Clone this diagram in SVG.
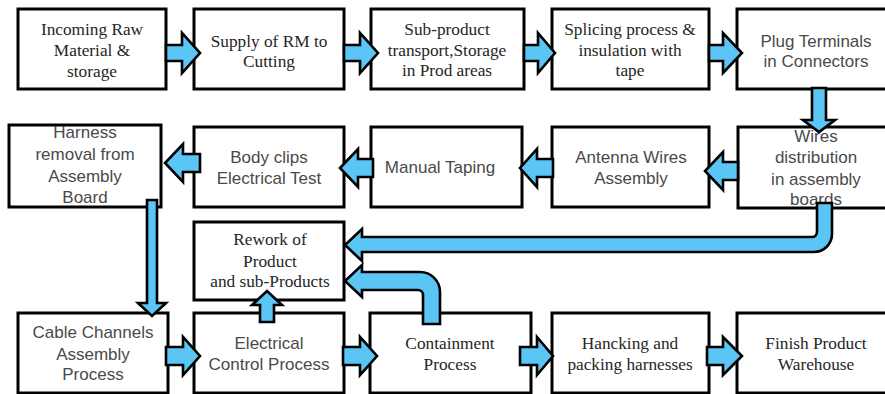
<svg xmlns="http://www.w3.org/2000/svg" width="885" height="394" viewBox="0 0 885 394">
<style>
.box{fill:#fff;stroke:#000;stroke-width:3}
.arr{fill:#5BC6F6;stroke:#000;stroke-width:2.6;stroke-linejoin:miter}
.se{font-family:"Liberation Serif","Times New Roman",serif;font-size:17.3px;fill:#262626;text-anchor:middle}
.sa{font-family:"Liberation Sans",Arial,sans-serif;font-size:17px;fill:#4a4a4a;text-anchor:middle}
</style>
<rect width="885" height="394" fill="#fff"/>
<g id="n1"><rect class="box" x="18" y="9" width="148" height="80"/><text class="se"><tspan x="92" y="35">Incoming Raw</tspan><tspan x="92" y="56">Material  &amp;</tspan><tspan x="92" y="77">storage</tspan></text></g>
<g id="n2"><rect class="box" x="194" y="9" width="150" height="80"/><text class="se"><tspan x="269" y="46.5">Supply of RM  to</tspan><tspan x="269" y="67">Cutting</tspan></text></g>
<g id="n3"><rect class="box" x="371" y="9" width="153" height="80"/><text class="se"><tspan x="447" y="35">Sub-product</tspan><tspan x="447" y="56">transport,Storage</tspan><tspan x="447" y="76">in Prod areas</tspan></text></g>
<g id="n4"><rect class="box" x="552" y="9" width="157" height="80"/><text class="se"><tspan x="630" y="35">Splicing process &amp;</tspan><tspan x="630" y="55.5">insulation with</tspan><tspan x="630" y="76">tape</tspan></text></g>
<g id="n5"><rect class="box" x="737" y="9" width="160" height="80"/><text class="sa"><tspan x="816" y="46.5">Plug  Terminals</tspan><tspan x="816" y="67">in Connectors</tspan></text></g>
<g id="n6"><rect class="box" x="738" y="127" width="160" height="81"/><text class="sa"><tspan x="816" y="142">Wires</tspan><tspan x="816" y="163">distribution</tspan><tspan x="816" y="185">in assembly</tspan><tspan x="816" y="205">boards</tspan></text></g>
<g id="n7"><rect class="box" x="552" y="127" width="157" height="80"/><text class="sa"><tspan x="631" y="163">Antenna  Wires</tspan><tspan x="631" y="184">Assembly</tspan></text></g>
<g id="n8"><rect class="box" x="371" y="127" width="151" height="80"/><text class="sa"><tspan x="440" y="173">Manual  Taping</tspan></text></g>
<g id="n9"><rect class="box" x="194" y="127" width="150" height="80"/><text class="sa"><tspan x="269" y="163">Body clips</tspan><tspan x="269" y="184">Electrical Test</tspan></text></g>
<g id="n10"><rect class="box" x="9" y="125" width="152" height="82"/><text class="sa"><tspan x="85" y="138">Harness</tspan><tspan x="85" y="160">removal  from</tspan><tspan x="85" y="182">Assembly</tspan><tspan x="85" y="203">Board</tspan></text></g>
<g id="n11"><rect class="box" x="194" y="222" width="150" height="78"/><text class="se"><tspan x="270" y="245">Rework of</tspan><tspan x="270" y="267">Product</tspan><tspan x="270" y="287">and sub-Products</tspan></text></g>
<g id="n12"><rect class="box" x="18" y="313" width="150" height="80"/><text class="sa"><tspan x="93" y="338">Cable Channels</tspan><tspan x="93" y="360">Assembly</tspan><tspan x="93" y="380">Process</tspan></text></g>
<g id="n13"><rect class="box" x="194" y="313" width="150" height="80"/><text class="sa"><tspan x="269" y="349">Electrical</tspan><tspan x="269" y="370">Control Process</tspan></text></g>
<g id="n14"><rect class="box" x="370" y="313" width="161" height="80"/><text class="se"><tspan x="450" y="349">Containment</tspan><tspan x="450" y="370">Process</tspan></text></g>
<g id="n15"><rect class="box" x="552" y="313" width="157" height="80"/><text class="se"><tspan x="630" y="349">Hancking and</tspan><tspan x="630" y="370">packing harnesses</tspan></text></g>
<g id="n16"><rect class="box" x="737" y="313" width="160" height="80"/><text class="se"><tspan x="816" y="349">Finish Product</tspan><tspan x="816" y="370">Warehouse</tspan></text></g>
<g id="connectors">
<path class="arr" d="M166,45 H182 V33 L200,53 L182,73 V61 H166 Z"/>
<path class="arr" d="M344,45 H360 V33 L378,53 L360,73 V61 H344 Z"/>
<path class="arr" d="M524,45 H538 V33 L555,53 L538,73 V61 H524 Z"/>
<path class="arr" d="M709,45 H723 V33 L742,53 L723,73 V61 H709 Z"/>
<path class="arr" d="M812,88 V120 H803 L819,132 L835,120 H826 V88 Z"/>
<path class="arr" d="M738,162 H723 V152 L705,171 L723,190 V180 H738 Z"/>
<path class="arr" d="M553,159 H537 V149 L520,168 L537,187 V177 H553 Z"/>
<path class="arr" d="M373,159 H358 V149 L340,168 L358,187 V177 H373 Z"/>
<path class="arr" d="M200,154 H183 V144 L165,163 L183,182 V172 H200 Z"/>
<path class="arr" d="M147,200 V303 H138 L152,316 L166,303 H157 V200 Z"/>
<path class="arr" d="M166,347 H183 V337 L200,356 L183,375 V365 H166 Z"/>
<path class="arr" d="M343,347 H360 V337 L377,356 L360,375 V365 H343 Z"/>
<path class="arr" d="M520,347 H537 V337 L553,356 L537,375 V365 H520 Z"/>
<path class="arr" d="M707,347 H723 V337 L742,356 L723,375 V365 H707 Z"/>
<path class="arr" d="M260,322 V305 H252 L267,291 L282,305 H274 V322 Z"/>
<path class="arr" d="M817,203 V232 A5,5 0 0 1 812,237 H362 V229 L345,245 L362,261 V252 H814 A18,18 0 0 0 832,234 V203 Z"/>
<path class="arr" d="M423,324 V295 A5,5 0 0 0 418,290 H362 V297 L345,281 L362,265 V272 H420 A20,20 0 0 1 440,292 V324 Z"/>
</g>
</svg>
